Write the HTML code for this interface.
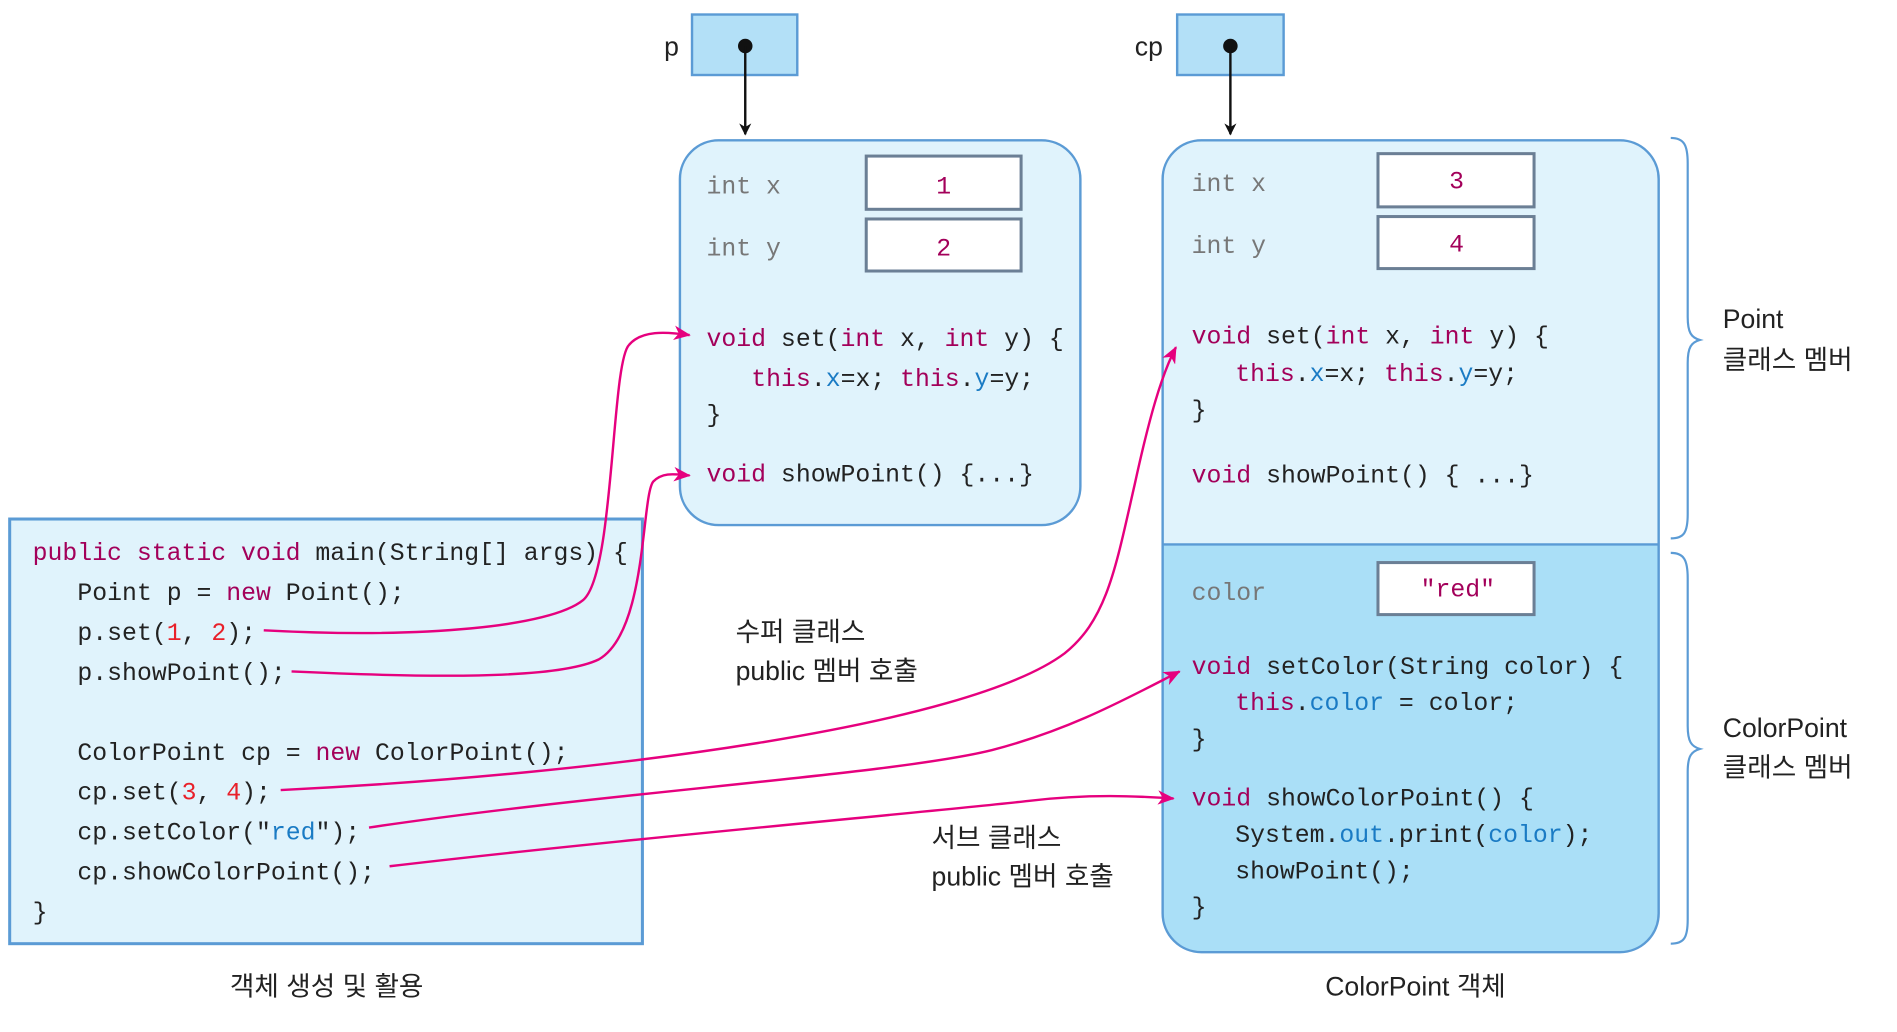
<!DOCTYPE html>
<html><head><meta charset="utf-8"><style>
html,body{margin:0;padding:0;background:#fff;}
svg{display:block;}
.c{font-family:"Liberation Mono","Noto Sans CJK KR",monospace;font-size:20.5px;fill:#222;}
.k{fill:#a3005a;}
.n{fill:#e8202a;}
.b{fill:#1a7bc4;}
.g{fill:#777;}
.l{font-family:"Liberation Sans","Noto Sans CJK KR",sans-serif;font-size:22px;fill:#222;}
</style></head><body>
<svg width="1897" height="1032" viewBox="0 0 1568 853" preserveAspectRatio="none" xmlns="http://www.w3.org/2000/svg">
<defs>
<marker id="ab" markerWidth="10" markerHeight="10" refX="9" refY="5" orient="auto" markerUnits="userSpaceOnUse"><path d="M0,0 L10,5 L0,10 L3,5 z" fill="#111"/></marker>
<marker id="am" markerWidth="14" markerHeight="12" refX="13" refY="6" orient="auto" markerUnits="userSpaceOnUse"><path d="M0,0 L14,6 L0,12 L4,6 z" fill="#e6007e"/></marker>
</defs>
<!-- reference boxes -->
<rect x="572" y="12" width="87" height="50" fill="#b3e0f7" stroke="#5b9bd5" stroke-width="2"/>
<text x="549" y="46" class="l">p</text>
<circle cx="616" cy="38" r="6" fill="#111"/>
<line x1="616" y1="38" x2="616" y2="111" stroke="#111" stroke-width="2" marker-end="url(#ab)"/>
<rect x="973" y="12" width="88" height="50" fill="#b3e0f7" stroke="#5b9bd5" stroke-width="2"/>
<text x="938" y="46" class="l">cp</text>
<circle cx="1017" cy="38" r="6" fill="#111"/>
<line x1="1017" y1="38" x2="1017" y2="111" stroke="#111" stroke-width="2" marker-end="url(#ab)"/>

<!-- Point object -->
<rect x="562" y="116" width="331" height="318" rx="32" fill="#e0f3fc" stroke="#5b9bd5" stroke-width="2"/>
<text x="584" y="160" class="c g">int x</text>
<rect x="716" y="129" width="128" height="44" fill="#fff" stroke="#6b7f95" stroke-width="2.5"/>
<text x="780" y="160" class="c k" text-anchor="middle">1</text>
<text x="584" y="211" class="c g">int y</text>
<rect x="716" y="181" width="128" height="43" fill="#fff" stroke="#6b7f95" stroke-width="2.5"/>
<text x="780" y="211" class="c k" text-anchor="middle">2</text>
<text x="584" y="286" class="c"><tspan class="k">void</tspan> set(<tspan class="k">int</tspan> x, <tspan class="k">int</tspan> y) {</text>
<text x="621" y="319" class="c"><tspan class="k">this</tspan>.<tspan class="b">x</tspan>=x; <tspan class="k">this</tspan>.<tspan class="b">y</tspan>=y;</text>
<text x="584" y="349" class="c">}</text>
<text x="584" y="398" class="c"><tspan class="k">void</tspan> showPoint() {...}</text>

<!-- ColorPoint object -->
<path d="M993,116 H1339 A32,32 0 0 1 1371,148 V450 H961 V148 A32,32 0 0 1 993,116 Z" fill="#e0f3fc"/>
<path d="M961,450 H1371 V755 A32,32 0 0 1 1339,787 H993 A32,32 0 0 1 961,755 Z" fill="#aadff7"/>
<rect x="961" y="116" width="410" height="671" rx="32" fill="none" stroke="#5b9bd5" stroke-width="2"/>
<line x1="961" y1="450" x2="1371" y2="450" stroke="#5b9bd5" stroke-width="2"/>
<text x="985" y="158" class="c g">int x</text>
<rect x="1139" y="127" width="129" height="44" fill="#fff" stroke="#6b7f95" stroke-width="2.5"/>
<text x="1204" y="156" class="c k" text-anchor="middle">3</text>
<text x="985" y="209" class="c g">int y</text>
<rect x="1139" y="179" width="129" height="43" fill="#fff" stroke="#6b7f95" stroke-width="2.5"/>
<text x="1204" y="208" class="c k" text-anchor="middle">4</text>
<text x="985" y="284" class="c"><tspan class="k">void</tspan> set(<tspan class="k">int</tspan> x, <tspan class="k">int</tspan> y) {</text>
<text x="1021" y="315" class="c"><tspan class="k">this</tspan>.<tspan class="b">x</tspan>=x; <tspan class="k">this</tspan>.<tspan class="b">y</tspan>=y;</text>
<text x="985" y="345" class="c">}</text>
<text x="985" y="399" class="c"><tspan class="k">void</tspan> showPoint() { ...}</text>
<text x="985" y="496" class="c g">color</text>
<rect x="1139" y="465" width="129" height="43" fill="#fff" stroke="#6b7f95" stroke-width="2.5"/>
<text x="1205" y="493" class="c k" text-anchor="middle">"red"</text>
<text x="985" y="557" class="c"><tspan class="k">void</tspan> setColor(String color) {</text>
<text x="1021" y="587" class="c"><tspan class="k">this</tspan>.<tspan class="b">color</tspan> = color;</text>
<text x="985" y="617" class="c">}</text>
<text x="985" y="666" class="c"><tspan class="k">void</tspan> showColorPoint() {</text>
<text x="1021" y="696" class="c">System.<tspan class="b">out</tspan>.print(<tspan class="b">color</tspan>);</text>
<text x="1021" y="726" class="c">showPoint();</text>
<text x="985" y="756" class="c">}</text>

<!-- braces -->
<path d="M1381,114 C1392,114 1395,120 1395,135 V262 C1395,275 1398,279 1405,281 C1398,283 1395,287 1395,300 V425 C1395,440 1392,445 1381,445" fill="none" stroke="#5b9bd5" stroke-width="1.8"/>
<path d="M1381,457 C1392,457 1395,463 1395,478 V600 C1395,613 1398,617 1405,619 C1398,621 1395,625 1395,638 V760 C1395,775 1392,780 1381,780" fill="none" stroke="#5b9bd5" stroke-width="1.8"/>
<text x="1424" y="271" class="l">Point</text>
<text x="1424" y="305" class="l">클래스 멤버</text>
<text x="1424" y="609" class="l">ColorPoint</text>
<text x="1424" y="642" class="l">클래스 멤버</text>

<!-- main code box -->
<rect x="8" y="429" width="523" height="351" fill="#e0f3fc" stroke="#5b9bd5" stroke-width="2.5"/>
<text x="27" y="463" class="c"><tspan class="k">public static void</tspan> main(String[] args) {</text>
<text x="64" y="496" class="c">Point p = <tspan class="k">new</tspan> Point();</text>
<text x="64" y="529" class="c">p.set(<tspan class="n">1</tspan>, <tspan class="n">2</tspan>);</text>
<text x="64" y="562" class="c">p.showPoint();</text>
<text x="64" y="628" class="c">ColorPoint cp = <tspan class="k">new</tspan> ColorPoint();</text>
<text x="64" y="661" class="c">cp.set(<tspan class="n">3</tspan>, <tspan class="n">4</tspan>);</text>
<text x="64" y="694" class="c">cp.setColor("<tspan class="b">red</tspan>");</text>
<text x="64" y="727" class="c">cp.showColorPoint();</text>
<text x="27" y="760" class="c">}</text>

<text x="270" y="823" class="l" text-anchor="middle">객체 생성 및 활용</text>
<text x="1170" y="823" class="l" text-anchor="middle">ColorPoint 객체</text>
<text x="608" y="530" class="l">수퍼 클래스</text>
<text x="608" y="562" class="l">public 멤버 호출</text>
<text x="770" y="700" class="l">서브 클래스</text>
<text x="770" y="732" class="l">public 멤버 호출</text>

<!-- magenta calls -->
<g fill="none" stroke="#e6007e" stroke-width="2">
<path d="M218,521 C350,528 455,518 482,496 C508,474 505,300 520,285 C530,273 550,274 570,277" marker-end="url(#am)"/>
<path d="M241,555 C350,560 460,562 495,545 C535,522 530,410 540,398 C548,390 558,392 570,393" marker-end="url(#am)"/>
<path d="M232,653 C500,640 800,600 880,540 C915,512 922,470 938,400 C950,345 960,310 972,287" marker-end="url(#am)"/>
<path d="M305,684 C500,655 740,640 820,620 C885,603 930,578 975,555" marker-end="url(#am)"/>
<path d="M322,716 C500,695 780,670 850,662 C900,656 940,658 970,660" marker-end="url(#am)"/>
</g>
</svg>
</body></html>
